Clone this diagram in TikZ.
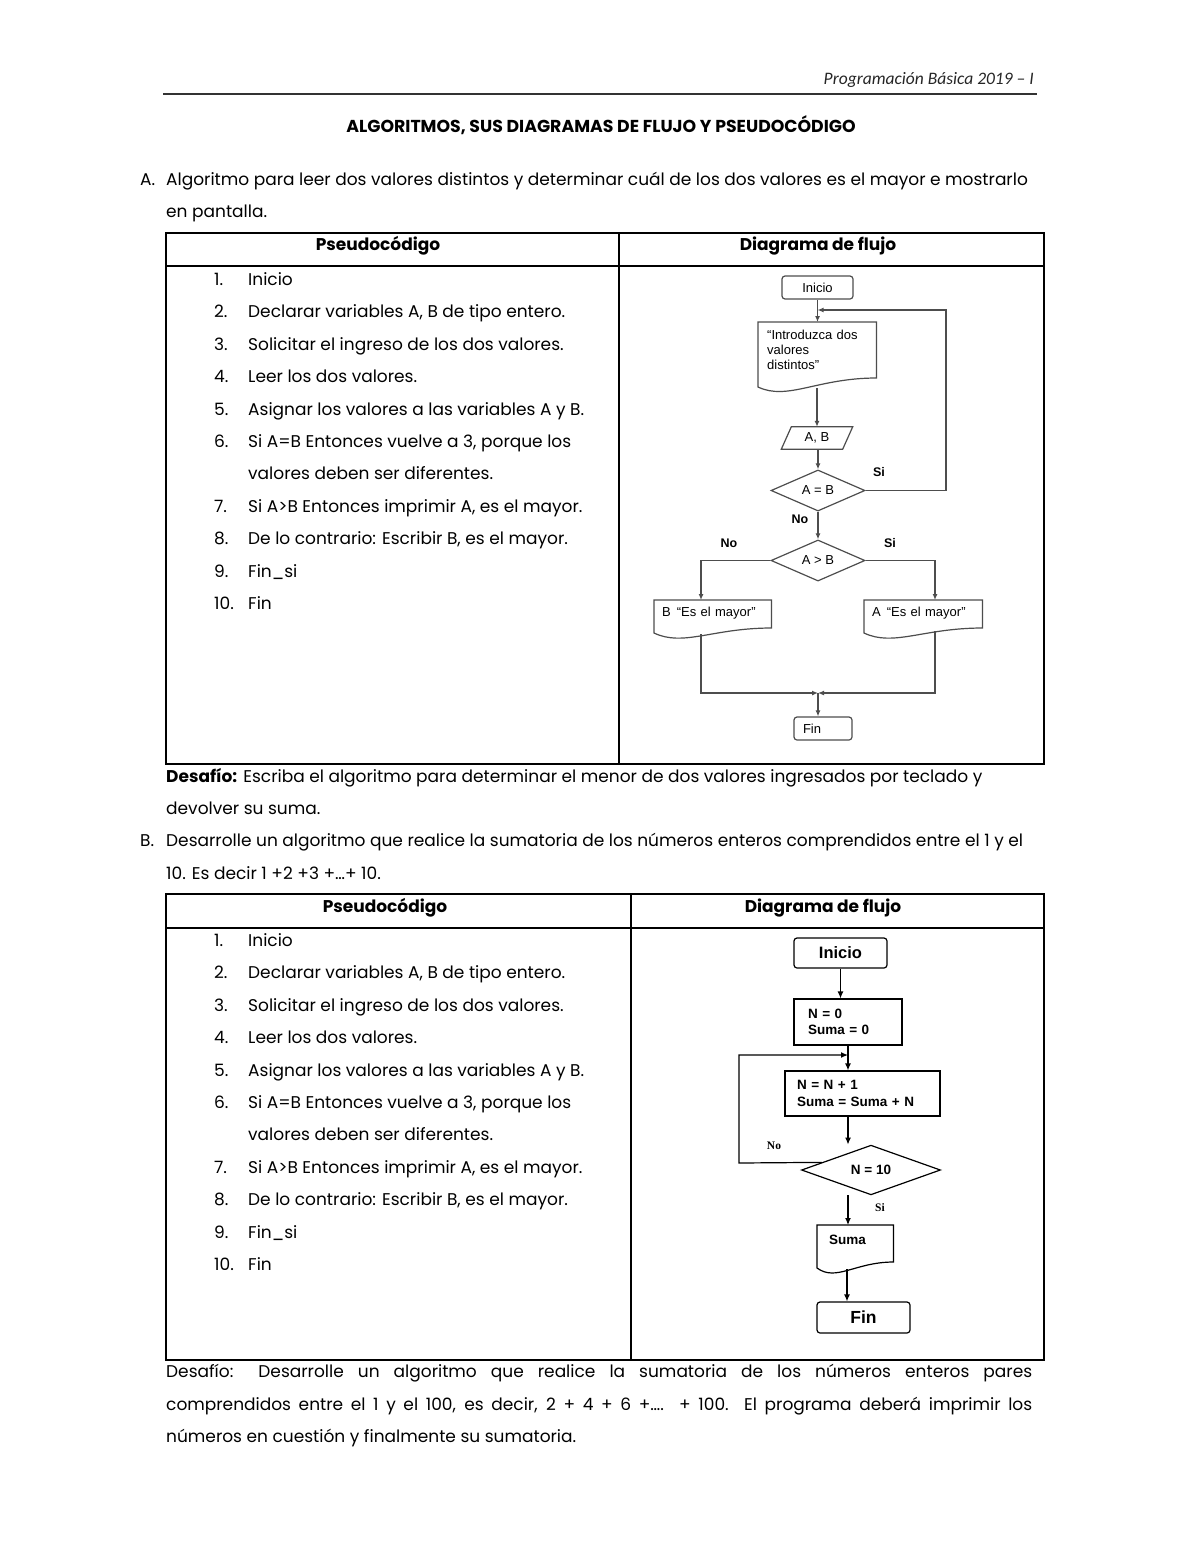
\documentclass[tikz,border=0pt]{standalone}
\usepackage{fontspec}
\setmainfont{Poppins}
\newfontfamily\hdrfont{Carlito}
\newfontfamily\arialf{Liberation Sans}
\newfontfamily\timesf{Liberation Serif}
\usetikzlibrary{shapes.geometric,arrows.meta,calc}
\definecolor{lnA}{HTML}{4D4D4D}
\newcommand\docout[4][]{%
  \draw[#1] (#2.north west) -- (#2.north east) -- ($(#2.north east)+(0,#3-#4)$)
   .. controls ($(#2.north west)!0.5!(#2.north east)+(0,#3-#4)$) and ($(#2.north west)!0.25!(#2.north east)+(0,#3+14)$) .. ($(#2.north west)+(0,#3)$) -- cycle;}
\newcommand\pseudolist[2]{%
 \foreach \k/\dy/\txt in {1/0/{Inicio},2/32/{Declarar variables A, B de tipo entero.},3/65/{Solicitar el ingreso de los dos valores.},4/97/{Leer los dos valores.},5/130/{Asignar los valores a las variables A y B.},6/162/{Si A=B Entonces vuelve a 3, porque los},7/227/{Si A>B Entonces imprimir A, es el mayor.},8/259/{De lo contrario: Escribir B, es el mayor.},9/292/{Fin\_si},10/324/{Fin}}{%
   \node[body] (#1n\k) at (214,#2+\dy) {\k.};
   \node[body] (#1t\k) at (248,#2+\dy) {\txt};
 }%
 \node[body] (#1t6b) at (248,#2+194) {valores deben ser diferentes.};
}
\begin{document}
\begin{tikzpicture}[x=1pt,y=-1pt,
  body/.style={anchor=west,inner sep=0pt,text height=14pt,text depth=2pt,font=\fontsize{17}{20}\selectfont},
  hdr/.style={inner sep=0pt,text height=12pt,text depth=4pt,font=\bfseries\fontsize{17}{20}\selectfont},
  tbl/.style={line width=1.6pt,black},
  lnA/.style={draw=lnA,line width=1.2pt},
  arrA/.style={lnA,-{Latex[length=6pt,width=5pt]}},
  txtA/.style={font=\arialf\fontsize{13}{15}\selectfont},
  boxA/.style={lnA,rounded corners=3pt,txtA,inner sep=0pt},
  lblA/.style={font=\arialf\bfseries\fontsize{12.5}{14}\selectfont,inner sep=0pt},
  lnB/.style={draw=black,line width=1.2pt},
  arrB/.style={lnB,-{Latex[length=7pt,width=6pt]}},
  txtB/.style={font=\arialf\bfseries\fontsize{13.5}{16.5}\selectfont},
  lblB/.style={font=\timesf\bfseries\fontsize{11.5}{13}\selectfont,inner sep=0pt},
]
\fill[white] (0,0) rectangle (1200,1553);
\useasboundingbox (0,0) rectangle (1200,1553);

% page header
\node[anchor=east,inner sep=0pt,font=\hdrfont\itshape\fontsize{17.5}{20}\selectfont,text=black!85] (hd) at (1034,80) {Programación Básica 2019 – I};
\draw[line width=1.4pt,black!80] (163,94) -- (1037,94);
\node[hdr,font=\bfseries\fontsize{17.3}{20}\selectfont] (title) at (601,128) {ALGORITMOS, SUS DIAGRAMAS DE FLUJO Y PSEUDOCÓDIGO};

% section A
\node[body] (Alab) at (140,179) {A.};
\node[body] (Atx1) at (166,179) {Algoritmo para leer dos valores distintos y determinar cuál de los dos valores es el mayor e mostrarlo};
\node[body] (Atx2) at (166,211) {en pantalla.};

\draw[tbl] (166,233) rectangle (1044,764);
\draw[tbl] (166,266) -- (1044,266);
\draw[tbl] (619,233) -- (619,764);
\node[hdr] (thA1) at (378,246) {Pseudocódigo};
\node[hdr] (thA2) at (818,246) {Diagrama de flujo};
\pseudolist{A}{279}

% flowchart A
\node[boxA,draw,minimum width=71pt,minimum height=23pt] (ai) at (817.5,287.5) {Inicio};
\node[txtA,anchor=north west,text width=100pt,align=left,inner xsep=9pt,inner ysep=8pt] (ad) at (758,322) {“Introduzca dos\\valores\\distintos”};
\docout[lnA]{ad}{65}{9}
\node[txtA,inner sep=0pt,minimum width=61pt,minimum height=22pt] (ap) at (817,438) {A, B};
\draw[lnA] ($(ap.north west)+(5,0)$) -- ($(ap.north east)+(5,0)$) -- ($(ap.south east)+(-5,0)$) -- ($(ap.south west)+(-5,0)$) -- cycle;
\node[diamond,lnA,draw,txtA,inner sep=0pt,minimum width=94pt,minimum height=35pt] (d1) at (818,490.5) {A = B};
\node[diamond,lnA,draw,txtA,inner sep=0pt,minimum width=94pt,minimum height=35pt] (d2) at (818,560.5) {A > B};
\node[txtA,anchor=north west,text width=101pt,align=left,inner xsep=8pt,inner ysep=7pt] (ab) at (654,600) {B\hspace{6pt}“Es el mayor”};
\docout[lnA]{ab}{33}{5}
\node[txtA,anchor=north west,text width=102pt,align=left,inner xsep=8pt,inner ysep=7pt] (aa) at (864,600) {A\hspace{6pt}“Es el mayor”};
\docout[lnA]{aa}{33}{5}
\node[boxA,draw,minimum height=23pt,text width=40pt,align=left,inner xsep=9pt] (af) at (823,728.5) {Fin};
\node[lblA] (siA1) at (879,472) {Si};
\node[lblA] (noA1) at (800,519) {No};
\node[lblA] (noA2) at (729,543) {No};
\node[lblA] (siA2) at (890,543) {Si};

\coordinate (adb) at ($(ad.north west)+(59,66)$);
\coordinate (loopA) at (946,310);
\coordinate (abt) at (701,600);
\coordinate (aat) at (935,600);
\coordinate (abb) at (701,634);
\coordinate (aab) at (935,631);
\coordinate (am) at (818,693);
\draw[arrA] (ai.south) -- (ai.south |- ad.north);
\draw[arrA] (d1.east) -| (loopA) -- (ai.south |- loopA);
\draw[arrA] (adb) -- (adb |- ap.north);
\draw[arrA] (d1.north |- ap.south) -- (d1.north);
\draw[arrA] (d1.south) -- (d2.north);
\draw[arrA] (d2.west) -| (abt);
\draw[arrA] (d2.east) -| (aat);
\draw[arrA] (abb) |- (am);
\draw[arrA] (aab) |- (am);
\draw[arrA] (am) -- (am |- af.north);

% desafio A and section B
\node[body] (DA1) at (166,776) {\textbf{Desafío:} Escriba el algoritmo para determinar el menor de dos valores ingresados por teclado y};
\node[body] (DA2) at (166,808) {devolver su suma.};
\node[body] (Blab) at (140,840) {B.};
\node[body] (Btx1) at (166,840) {Desarrolle un algoritmo que realice la sumatoria de los números enteros comprendidos entre el 1 y el};
\node[body] (Btx2) at (166,873) {10. Es decir 1 +2 +3 +…+ 10.};

\draw[tbl] (166,894) rectangle (1044,1360);
\draw[tbl] (166,928) -- (1044,928);
\draw[tbl] (631,894) -- (631,1360);
\node[hdr] (thB1) at (385,908) {Pseudocódigo};
\node[hdr] (thB2) at (823,908) {Diagrama de flujo};
\pseudolist{B}{940}

% flowchart B
\node[lnB,draw,rounded corners=3pt,minimum width=93pt,minimum height=30pt,inner sep=0pt,font=\arialf\bfseries\fontsize{16.5}{18}\selectfont] (bi) at (840.5,953) {Inicio};
\node[lnB,draw,txtB,minimum height=46pt,text width=80pt,align=left,inner xsep=14pt] (bn) at (848,1022) {N = 0\\Suma = 0};
\node[lnB,draw,txtB,minimum height=45pt,text width=131pt,align=left,inner xsep=12pt] (bs) at (862.5,1093.5) {N = N + 1\\Suma = Suma + N};
\node[diamond,lnB,draw,txtB,inner sep=0pt,minimum width=139pt,minimum height=46pt] (bd) at (871,1170) {N = 10};
\node[txtB,anchor=north west,text width=52pt,align=left,inner xsep=12pt,inner ysep=10pt] (bsum) at (817,1225) {Suma};
\docout[lnB]{bsum}{43}{6}
\node[lnB,draw,rounded corners=3pt,minimum width=93pt,minimum height=31pt,inner sep=0pt,font=\arialf\bfseries\fontsize{17.5}{19}\selectfont] (bf) at (863.5,1317.5) {Fin};
\node[lblB] (noB) at (774,1146) {No};
\node[lblB] (siB) at (880,1208) {Si};

\coordinate (bdw) at ($(bd.west)!0.3!(bd.north)$);
\coordinate (bl1) at (739,1163);
\coordinate (bl2) at (739,1055);
\coordinate (bsb) at ($(bsum.north west)+(30,44)$);
\draw[arrB] (bi.south) -- (bi.south |- bn.north);
\draw[arrB] (bn.south) -- (bn.south |- bs.north);
\draw[arrB] (bdw) -- (bl1) -- (bl2) -- (bn.south |- bl2);
\draw[arrB] (bn.south |- bs.south) -- (bn.south |- bd.north);
\draw[arrB] (bn.south |- bd.south) -- (bn.south |- bsum.north);
\draw[arrB] (bsb) -- (bsb |- bf.north);

% desafio B
\node[anchor=north west,inner sep=0pt,text width=866pt,align=justify,font=\fontsize{17}{32.5}\selectfont] (DB) at (166,1364) {Desafío: Desarrolle un algoritmo que realice la sumatoria de los números enteros pares\linebreak comprendidos entre el 1 y el 100, es decir, 2 + 4 + 6 +…. + 100. El programa deberá imprimir los\linebreak números en cuestión y finalmente su sumatoria.};
\end{tikzpicture}
\end{document}
